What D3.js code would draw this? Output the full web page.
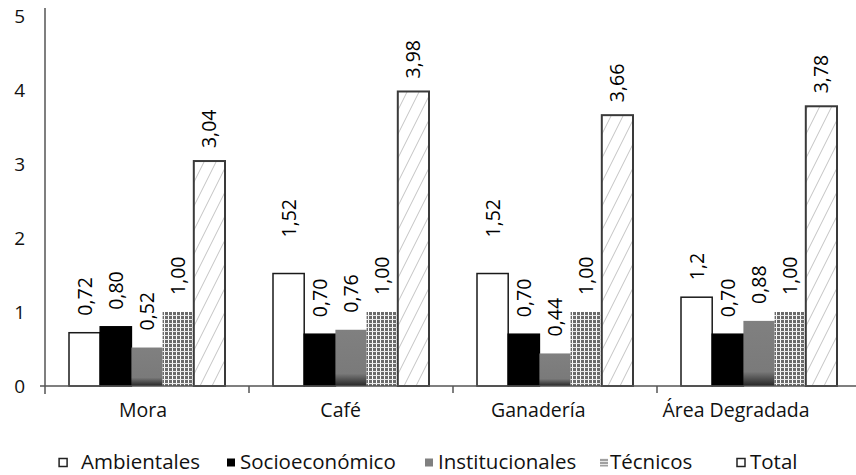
<!DOCTYPE html>
<html>
<head>
<meta charset="utf-8">
<script src="https://cdn.jsdelivr.net/npm/d3@7"></script>
<style>
  body { margin: 0; background: #fff; }
  svg { display: block; font-family: "Open Sans", sans-serif; }
</style>
</head>
<body>
<svg id="chart"></svg>
<script>
const WIDTH = 856;
const HEIGHT = 475;

const categories = ["Mora", "Café", "Ganadería", "Área Degradada"];
const seriesNames = ["Ambientales", "Socioeconómico", "Institucionales", "Técnicos", "Total"];
const ambientales = [0.72, 1.52, 1.52, 1.2];
const socioeconomico = [0.80, 0.70, 0.70, 0.70];
const institucionales = [0.52, 0.76, 0.44, 0.88];
const tecnicos = [1.00, 1.00, 1.00, 1.00];
const total = [3.04, 3.98, 3.66, 3.78];
const valueLabels = [
  ["0,72", "0,80", "0,52", "1,00", "3,04"],
  ["1,52", "0,70", "0,76", "1,00", "3,98"],
  ["1,52", "0,70", "0,44", "1,00", "3,66"],
  ["1,2", "0,70", "0,88", "1,00", "3,78"]
];
const yTicks = [0, 1, 2, 3, 4, 5];

const series = [ambientales, socioeconomico, institucionales, tecnicos, total];

const svg = d3.select("#chart").attr("width", WIDTH).attr("height", HEIGHT);
const defs = svg.append("defs");

// gray bars get darker at the bottom
const grad = defs.append("linearGradient").attr("id", "instGrad")
  .attr("x1", 0).attr("y1", 0).attr("x2", 0).attr("y2", 1);
grad.append("stop").attr("offset", "0").attr("stop-color", "#808080");
grad.append("stop").attr("offset", "0.78").attr("stop-color", "#7a7a7a");
grad.append("stop").attr("offset", "1").attr("stop-color", "#262626");

// small grid for Técnicos
const grid = defs.append("pattern").attr("id", "gridPat")
  .attr("patternUnits", "userSpaceOnUse").attr("width", 4).attr("height", 4);
grid.append("rect").attr("width", 4).attr("height", 4).attr("fill", "#6a6a6a");
grid.append("rect").attr("x", 3).attr("width", 1).attr("height", 4).attr("fill", "#fff");
grid.append("rect").attr("y", 3).attr("width", 4).attr("height", 1).attr("fill", "#e8e8e8");

const legGrid = defs.append("pattern").attr("id", "legGrid")
  .attr("patternUnits", "userSpaceOnUse").attr("width", 3).attr("height", 3);
legGrid.append("rect").attr("width", 3).attr("height", 3).attr("fill", "#a0a0a0");
legGrid.append("rect").attr("y", 2).attr("width", 3).attr("height", 1).attr("fill", "#e6e6e6");

// diagonal hatch for Total
const hatch = defs.append("pattern").attr("id", "hatchPat")
  .attr("patternUnits", "userSpaceOnUse").attr("width", 12).attr("height", 24);
hatch.append("rect").attr("width", 12).attr("height", 24).attr("fill", "#fff");
hatch.append("path").attr("d", "M0,24 L12,0 M-6,12 L0,0 M12,24 L18,12")
  .attr("stroke", "#c4c4c4").attr("stroke-width", 1);

const fills = ["#fff", "#000", "url(#instGrad)", "url(#gridPat)", "url(#hatchPat)"];
const strokes = ["#1a1a1a", "#000", "none", "none", "#3a3a3a"];

const x0 = d3.scaleBand().domain(categories).range([45, 861]).paddingInner(0).paddingOuter(0);
const x1 = d3.scaleBand().domain(d3.range(5)).range([24, x0.bandwidth() - 24]);
const y = d3.scaleLinear().domain([0, 5]).range([386, 16]);
// category labels sit a little left of the band centres in the original
const xLab = d3.scalePoint().domain(categories).range([143, 736]);

// y axis
svg.append("line").attr("x1", 45).attr("x2", 45).attr("y1", 8).attr("y2", 394)
  .attr("stroke", "#555").attr("stroke-width", 1.5);
svg.selectAll(".ytick").data(yTicks).enter().append("text")
  .attr("x", 25).attr("y", d => y(d) + 7).attr("text-anchor", "end")
  .attr("font-size", 19).attr("fill", "#111").text(d => d);

const groups = svg.selectAll(".grp").data(categories).enter().append("g")
  .attr("transform", d => `translate(${x0(d)},0)`);

groups.each(function(cat, ci) {
  const g = d3.select(this);
  series.forEach((vals, si) => {
    const v = vals[ci];
    const bx = x1(si), bw = x1.bandwidth();
    g.append("rect")
      .attr("x", bx).attr("y", y(v)).attr("width", bw).attr("height", y(0) - y(v))
      .attr("fill", fills[si])
      .attr("stroke", strokes[si]).attr("stroke-width", si === 4 ? 2 : 1.5);
    const gap = (si === 0 && v > 1.4) ? 36 : (si === 4 ? 13 : 17);
    g.append("text")
      .attr("transform", `translate(${bx + bw / 2 + 7},${y(v) - gap}) rotate(-90)`)
      .attr("font-size", 19.5).attr("fill", "#000").text(valueLabels[ci][si]);
  });
});

// x axis
svg.append("line").attr("x1", 40).attr("x2", 861).attr("y1", 386).attr("y2", 386)
  .attr("stroke", "#555").attr("stroke-width", 1.5);
svg.selectAll(".xtick").data(categories).enter().append("line")
  .attr("x1", (d, i) => x0(d) + x0.bandwidth())
  .attr("x2", (d, i) => x0(d) + x0.bandwidth())
  .attr("y1", 386).attr("y2", 393).attr("stroke", "#555").attr("stroke-width", 1.5);
svg.selectAll(".xlab").data(categories).enter().append("text")
  .attr("x", d => xLab(d)).attr("y", 417)
  .attr("text-anchor", "middle").attr("font-size", 19.5).attr("fill", "#111").text(d => d);

// legend: text starts, Ambientales is anchored at its end
const legText = [200, 240, 438, 610, 750];
const legAnchor = ["end", "start", "start", "start", "start"];
const legFill = ["#fff", "#000", "#808080", "url(#legGrid)", "#fff"];
const leg = svg.selectAll(".leg").data(seriesNames).enter().append("g");
leg.append("text")
  .attr("x", (d, i) => legText[i]).attr("y", 469)
  .attr("text-anchor", (d, i) => legAnchor[i])
  .attr("font-size", 20.5).attr("fill", "#111").text(d => d);
leg.each(function(d, i) {
  const bb = d3.select(this).select("text").node().getBBox();
  const gap = [14, 5, 5, 2, 5][i];
  d3.select(this).insert("rect", "text")
    .attr("x", bb.x - gap - 8).attr("y", 458.5).attr("width", 8).attr("height", 8)
    .attr("fill", legFill[i])
    .attr("stroke", (i === 0 || i === 4) ? "#222" : "none").attr("stroke-width", 1.5);
});
</script>
</body>
</html>
